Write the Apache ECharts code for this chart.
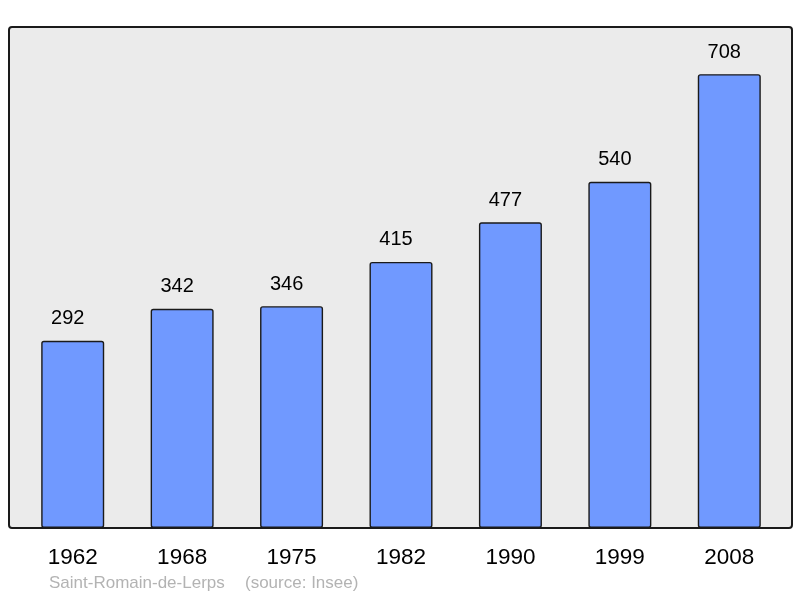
<!DOCTYPE html>
<html>
<head>
<meta charset="utf-8">
<script src="https://cdn.jsdelivr.net/npm/echarts@6/dist/echarts.min.js"></script>
<style>
html,body{margin:0;padding:0;background:#fff;}
#chart{width:800px;height:598px;}
</style>
</head>
<body>
<div id="chart"></div>
<script>
var years = ['1962', '1968', '1975', '1982', '1990', '1999', '2008'];
var population = [292, 342, 346, 415, 477, 540, 708];
var placeName = 'Saint-Romain-de-Lerps';
var sourceText = '(source: Insee)';

var chart = echarts.init(document.getElementById('chart'), null, {renderer: 'canvas'});
var font = '"Liberation Sans", Arial, sans-serif';
chart.setOption({
  animation: false,
  backgroundColor: '#ffffff',
  graphic: [
    {
      type: 'rect', z: -10, silent: true,
      shape: {x: 9, y: 27, width: 783, height: 501, r: 3},
      style: {fill: '#ebebeb', stroke: '#1a1a1a', lineWidth: 2}
    },
    {
      type: 'text', left: 49, top: 575,
      style: {text: placeName, fill: '#b3b3b3', font: '17px ' + font}
    },
    {
      type: 'text', left: 245, top: 575,
      style: {text: sourceText, fill: '#b3b3b3', font: '17px ' + font}
    }
  ],
  grid: {left: 18, right: 16, top: 28, bottom: 70},
  xAxis: {
    type: 'category',
    data: years,
    axisLine: {show: false},
    axisTick: {show: false},
    axisLabel: {color: '#000', fontSize: 22.5, fontFamily: font, margin: 18}
  },
  yAxis: {
    type: 'value', min: 0, max: 780,
    show: false,
    splitLine: {show: false}
  },
  series: [{
    type: 'bar',
    data: population,
    barWidth: 63,
    itemStyle: {color: '#7099ff', borderColor: '#1a1a1a', borderWidth: 1.4, borderRadius: 2},
    label: {show: true, position: 'top', distance: 12, offset: [-5, 0], color: '#000', fontSize: 20, fontFamily: font}
  }]
});
</script>
</body>
</html>
